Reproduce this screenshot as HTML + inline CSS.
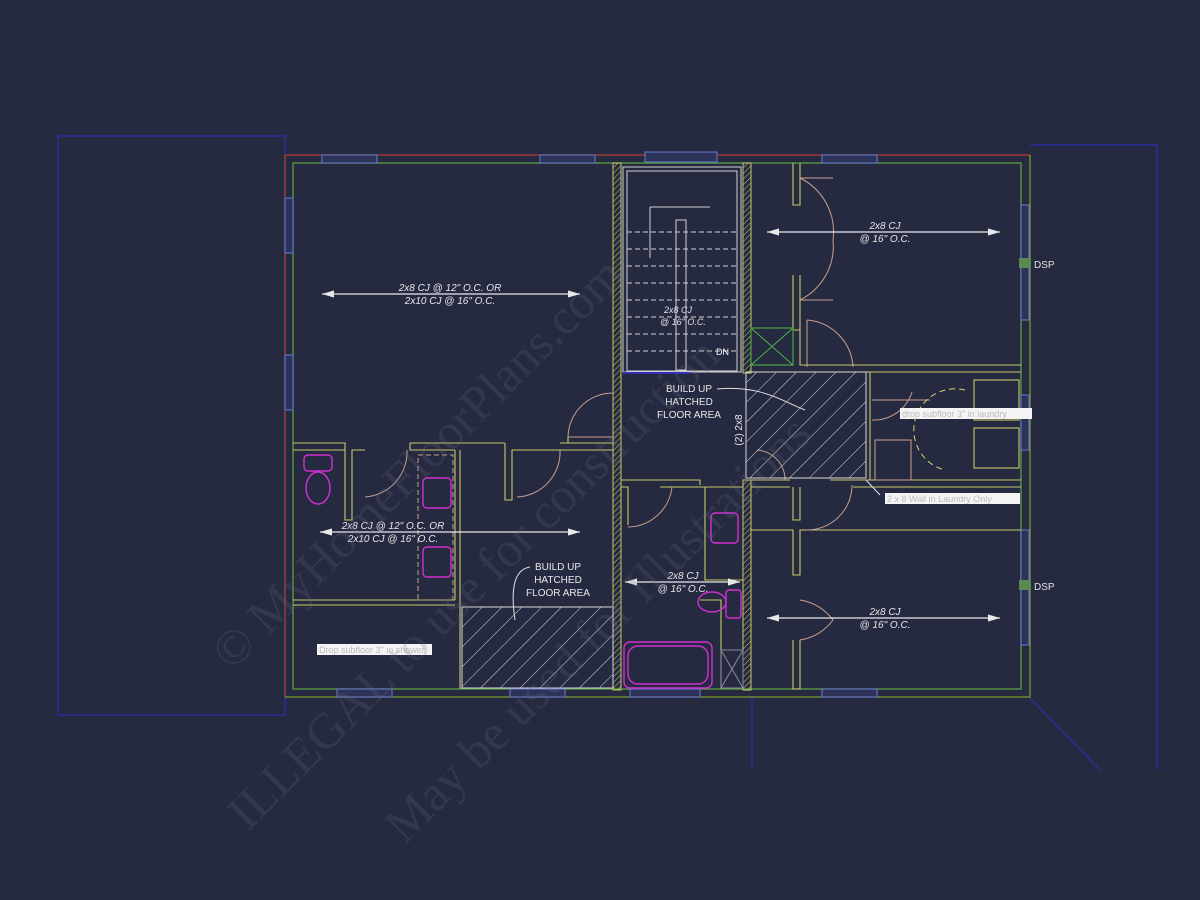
<!DOCTYPE html>
<html><head><style>
html,body{margin:0;padding:0;background:#262a40;}
svg{display:block}
</style></head><body>
<svg width="1200" height="900" viewBox="0 0 1200 900" xmlns="http://www.w3.org/2000/svg" font-family="Liberation Sans, sans-serif">
<defs>
<pattern id="h" width="14" height="14" patternUnits="userSpaceOnUse" patternTransform="rotate(45)">
<line x1="0" y1="0" x2="0" y2="14" stroke="#d8d8d8" stroke-width="1"/></pattern>
<pattern id="wh" width="4" height="4" patternUnits="userSpaceOnUse" patternTransform="rotate(45)">
<line x1="0" y1="0" x2="0" y2="4" stroke="#c8c86a" stroke-width="1"/></pattern>
<marker id="a" viewBox="0 0 10 6" refX="10" refY="3" markerWidth="10" markerHeight="6" orient="auto-start-reverse"><path d="M0,0 L10,3 L0,6z" fill="#e8e8e8"/></marker>
</defs>
<rect width="1200" height="900" fill="#262a40"/>
<g fill="none" stroke="#2a2fb0" stroke-width="1.2">
<rect x="58" y="136" width="227" height="579"/>
<polyline points="1030,145 1157,145 1157,770"/>
<line x1="752" y1="698" x2="752" y2="770"/>
<line x1="1030" y1="698" x2="1100" y2="770"/>
</g>
<g fill="none" stroke-width="1.3">
<polyline points="285,697 285,155 1030,155" stroke="#b03a30"/>
<polyline points="1030,155 1030,697 285,697" stroke="#7a9a30"/>
<rect x="293" y="163" width="728" height="526" stroke="#5aa040"/>
</g>
<g fill="#2c3258" stroke="#6a7ad0" stroke-width="1">
<rect x="322" y="155" width="55" height="8"/><rect x="540" y="155" width="55" height="8"/>
<rect x="645" y="152" width="72" height="10"/><rect x="822" y="155" width="55" height="8"/>
<rect x="285" y="198" width="8" height="55"/><rect x="285" y="355" width="8" height="55"/>
<rect x="1021" y="205" width="8" height="115"/><rect x="1021" y="530" width="8" height="115"/>
<rect x="1021" y="395" width="8" height="55"/>
<rect x="337" y="689" width="55" height="8"/><rect x="510" y="689" width="55" height="8"/>
<rect x="630" y="689" width="70" height="8"/><rect x="822" y="689" width="55" height="8"/>
</g>
<rect x="1019" y="258" width="12" height="10" fill="#5a8a50"/>
<rect x="1019" y="580" width="12" height="10" fill="#5a8a50"/>
<text x="1034" y="268" fill="#e0e0e0" font-size="10">DSP</text>
<text x="1034" y="590" fill="#e0e0e0" font-size="10">DSP</text>
<rect x="613" y="163" width="8" height="527" fill="url(#wh)" stroke="#c8c86a" stroke-width="1"/>
<rect x="743" y="163" width="8" height="210" fill="url(#wh)" stroke="#c8c86a" stroke-width="1"/>
<rect x="743" y="480" width="8" height="210" fill="url(#wh)" stroke="#c8c86a" stroke-width="1"/>
<g fill="none" stroke="#d0d0d0" stroke-width="1">
<rect x="623" y="167" width="118" height="205"/>
<rect x="627" y="171" width="110" height="200"/>
<rect x="676" y="220" width="10" height="150"/>
<polyline points="650,207 710,207"/><line x1="650" y1="207" x2="650" y2="258"/>
</g>
<g stroke="#d0d0d0" stroke-dasharray="5,3" stroke-width="1">
<line x1="627" y1="232" x2="737" y2="232"/><line x1="627" y1="249" x2="737" y2="249"/>
<line x1="627" y1="266" x2="737" y2="266"/><line x1="627" y1="283" x2="737" y2="283"/>
<line x1="627" y1="300" x2="737" y2="300"/><line x1="627" y1="317" x2="737" y2="317"/>
<line x1="627" y1="334" x2="737" y2="334"/><line x1="627" y1="351" x2="737" y2="351"/>
</g>
<line x1="623" y1="373" x2="690" y2="373" stroke="#3030b0" stroke-width="2"/>
<text x="716" y="355" fill="#fff" font-size="9">DN</text>
<text x="664" y="313" fill="#e0e0e0" font-size="9" font-style="italic">2x8 CJ</text>
<text x="660" y="325" fill="#e0e0e0" font-size="9" font-style="italic">@ 16" O.C.</text>
<g fill="none" stroke="#c8c86a" stroke-width="1.1">
<polyline points="793,163 793,205 800,205 800,163"/>
<polyline points="793,275 793,330 800,330 800,275"/>
<polyline points="800,330 800,365 1021,365"/><polyline points="800,372 870,372"/><polyline points="870,372 1021,372"/>
<rect x="751" y="328" width="42" height="37" stroke="#4ab040"/>
<line x1="751" y1="328" x2="793" y2="365" stroke="#4ab040"/><line x1="793" y1="328" x2="751" y2="365" stroke="#4ab040"/>
<polyline points="870,372 870,480 1021,480"/>
<rect x="974" y="380" width="45" height="40"/><rect x="974" y="428" width="45" height="40"/>
<polyline points="751,480 790,480"/><polyline points="830,480 1021,480"/>
<polyline points="751,487 790,487"/><polyline points="853,487 1021,487"/>
<polyline points="793,487 793,520 800,520 800,487"/>
<polyline points="751,530 793,530 793,575 800,575 800,530 1021,530"/>
<polyline points="793,640 793,689 800,689 800,640"/>
<polyline points="293,443 345,443 345,520 352,520 352,450 365,450"/><polyline points="293,450 345,450"/>
<polyline points="410,443 410,450 455,450"/><polyline points="410,443 505,443"/>
<polyline points="460,450 460,689"/><polyline points="455,450 455,600"/>
<polyline points="505,443 505,500 512,500 512,450 560,450"/>
<polyline points="560,443 613,443"/><polyline points="560,450 613,450"/>
<polyline points="293,600 455,600"/><polyline points="293,605 455,605"/>
<polyline points="568,443 568,437"/>
<polyline points="621,480 700,480 700,485"/><polyline points="621,487 628,487 628,525"/>
<polyline points="660,487 743,487"/><polyline points="705,487 705,580 743,580"/>
<polyline points="700,600 721,600 721,689"/>
</g>
<g fill="none" stroke="#c8a090" stroke-width="1">
<path d="M800,178 A60,60 0 0 1 833,240 M800,300 A60,60 0 0 0 833,240"/>
<line x1="800" y1="178" x2="833" y2="178"/><line x1="800" y1="300" x2="833" y2="300"/>
<path d="M807,320 A50,50 0 0 1 853,367"/><line x1="807" y1="320" x2="807" y2="367"/>
<path d="M872,420 A40,40 0 0 0 912,392"/><line x1="872" y1="400" x2="930" y2="400"/>
<rect x="875" y="440" width="36" height="40"/>
<path d="M807,530 A45,45 0 0 0 852,485"/>
<path d="M800,600 A50,50 0 0 1 833,620 M800,640 A50,50 0 0 0 833,620"/>
<path d="M757,450 A30,30 0 0 1 785,480"/>
<path d="M568,437 A45,45 0 0 1 613,393"/><line x1="568" y1="437" x2="613" y2="437"/>
<path d="M365,497 A45,45 0 0 0 407,450"/>
<path d="M517,497 A45,45 0 0 0 560,450"/>
<path d="M628,527 A45,45 0 0 0 672,487"/>
</g>
<g fill="none" stroke="#d4d470" stroke-dasharray="6,4" stroke-width="1">
<path d="M965,390 A40,40 0 0 0 945,470"/>
</g>
<g fill="none" stroke="#c8a090" stroke-dasharray="5,3" stroke-width="1">
<rect x="418" y="455" width="35" height="145"/>
</g>
<rect x="746" y="372" width="120" height="106" fill="url(#h)" stroke="#d8d8d8" stroke-width="1"/>
<rect x="462" y="607" width="151" height="81" fill="url(#h)" stroke="#d8d8d8" stroke-width="1"/>
<g fill="none" stroke="#d030d0" stroke-width="1.4">
<rect x="304" y="455" width="28" height="16" rx="4"/><ellipse cx="318" cy="488" rx="12" ry="16"/>
<rect x="423" y="478" width="28" height="30" rx="4"/><rect x="423" y="547" width="28" height="30" rx="4"/>
<rect x="711" y="513" width="27" height="30" rx="4"/>
<ellipse cx="712" cy="602" rx="14" ry="10"/><rect x="726" y="590" width="15" height="28" rx="3"/>
<rect x="624" y="642" width="88" height="46" rx="6"/><rect x="628" y="646" width="80" height="38" rx="10"/>
</g>
<rect x="721" y="650" width="22" height="38" fill="none" stroke="#8a8aa0"/>
<line x1="721" y1="650" x2="743" y2="688" stroke="#8a8aa0"/><line x1="743" y1="650" x2="721" y2="688" stroke="#8a8aa0"/>
<g stroke="#e8e8e8" stroke-width="1.2" marker-start="url(#a)" marker-end="url(#a)">
<line x1="322" y1="294" x2="580" y2="294"/><line x1="767" y1="232" x2="1000" y2="232"/>
<line x1="767" y1="618" x2="1000" y2="618"/><line x1="320" y1="532" x2="580" y2="532"/>
<line x1="625" y1="582" x2="740" y2="582"/>
</g>
<g fill="#e8e8e8" font-size="10" font-style="italic" text-anchor="middle">
<text x="450" y="291">2x8 CJ @ 12" O.C. OR</text><text x="450" y="304">2x10 CJ @ 16" O.C.</text>
<text x="885" y="229">2x8 CJ</text><text x="885" y="242">@ 16" O.C.</text>
<text x="885" y="615">2x8 CJ</text><text x="885" y="628">@ 16" O.C.</text>
<text x="393" y="529">2x8 CJ @ 12" O.C. OR</text><text x="393" y="542">2x10 CJ @ 16" O.C.</text>
<text x="683" y="579">2x8 CJ</text><text x="683" y="592">@ 16" O.C.</text>
</g>
<g fill="#e8e8e8" font-size="10" text-anchor="middle">
<text x="689" y="392">BUILD UP</text><text x="689" y="405">HATCHED</text><text x="689" y="418">FLOOR AREA</text>
<text x="558" y="570">BUILD UP</text><text x="558" y="583">HATCHED</text><text x="558" y="596">FLOOR AREA</text>
<text x="742" y="430" transform="rotate(-90 742 430)">(2) 2x8</text>
</g>
<g fill="none" stroke="#e0e0e0" stroke-width="1">
<path d="M717,389 C760,385 780,400 805,410"/><path d="M530,567 C510,570 512,600 515,620"/>
<line x1="866" y1="480" x2="880" y2="495"/>
</g>
<rect x="900" y="408" width="132" height="11" fill="#f4f4f4"/>
<text x="902" y="417" fill="#bbb" font-size="9">drop subfloor 3" in laundry</text>
<rect x="885" y="493" width="135" height="11" fill="#f4f4f4"/>
<text x="887" y="502" fill="#bbb" font-size="9">2 x 8 Wall in Laundry Only</text>
<rect x="317" y="644" width="115" height="11" fill="#f4f4f4"/>
<text x="319" y="653" fill="#bbb" font-size="9">Drop subfloor 3" in shower</text>
<g fill="#6a6e80" fill-opacity="0.22" font-family="Liberation Serif, serif" font-size="50">
<text x="232" y="672" transform="rotate(-45 232 672)">© MyHomeFloorPlans.com</text>
<text x="248" y="832" transform="rotate(-45 248 832)">ILLEGAL to use for construction</text>
<text x="405" y="845" transform="rotate(-45 405 845)">May be used for Illustrations</text>
</g>
</svg>
</body></html>
